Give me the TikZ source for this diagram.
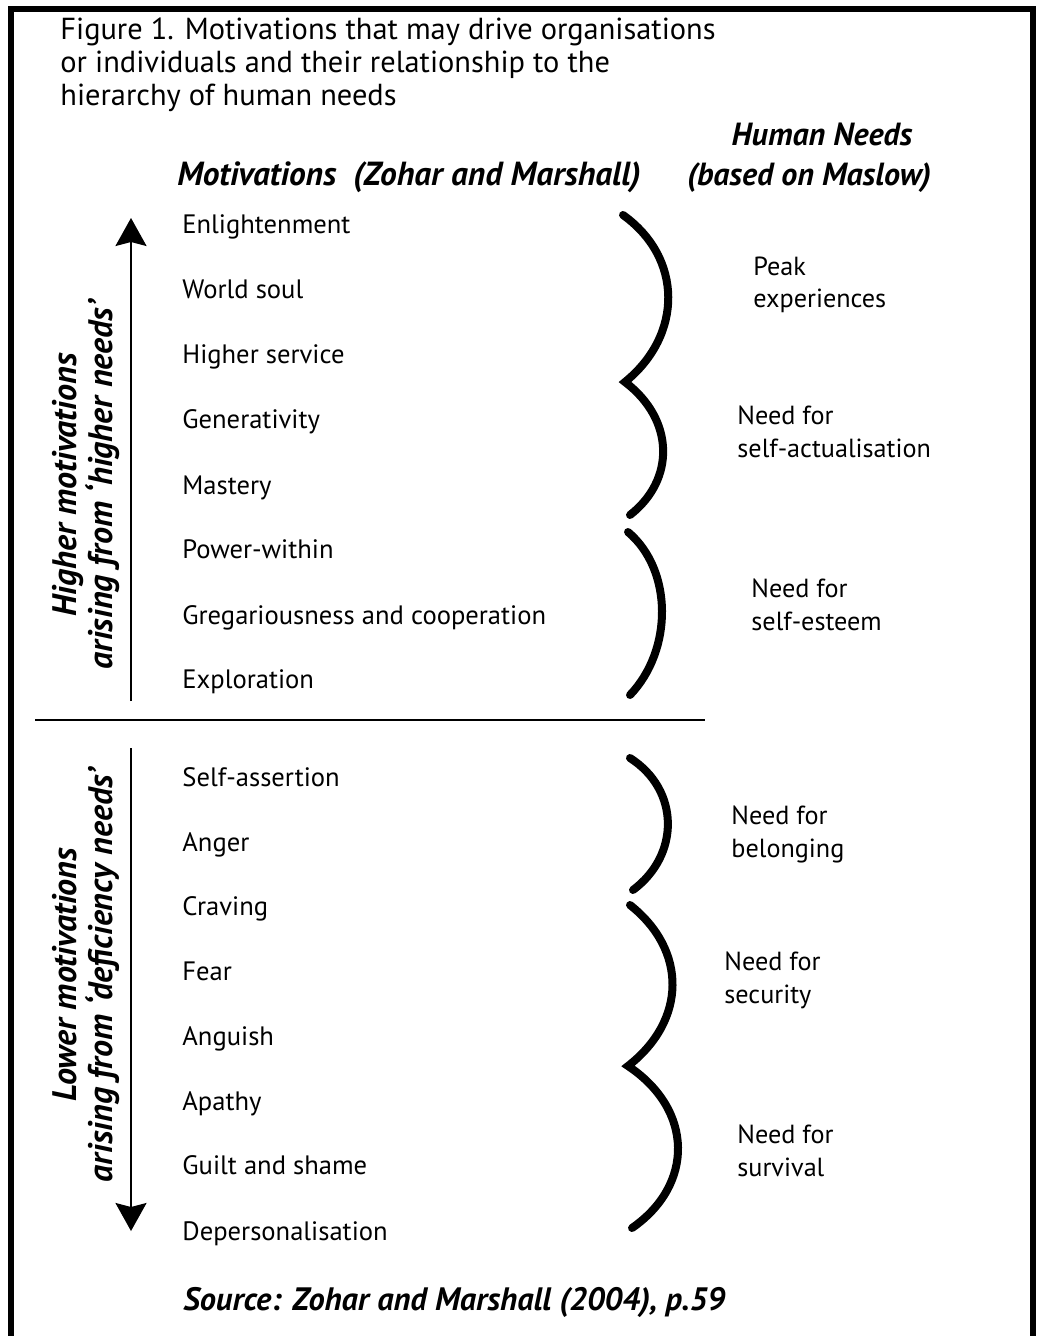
\documentclass[tikz,border=0pt]{standalone}
\usepackage{fontspec}
\setmainfont{PT Sans}
\usetikzlibrary{arrows.meta}
\tikzset{
  item/.style={anchor=base west, inner sep=0pt, font=\fontsize{13.3}{15}\selectfont},
  need/.style={anchor=base west, inner sep=0pt, align=left, font=\fontsize{13.1}{16.2}\selectfont},
  head/.style={anchor=base, inner sep=0pt, font=\fontsize{16}{18}\selectfont\bfseries\itshape},
  side/.style={inner sep=0pt, rotate=90, align=center, font=\fontsize{17}{17.8}\selectfont\bfseries\itshape},
  brace/.style={line width=4pt, line cap=round, line join=miter},
  vecarrow/.style={line width=1pt, -{Stealth[length=14pt, width=15.5pt, inset=2pt]}},
}
\begin{document}
\begin{tikzpicture}[x=0.5pt, y=-0.5pt]
\useasboundingbox (0,0) rectangle (1037,1336);
% frame
\draw[line width=2.6pt] (11,1336) -- (11,9) -- (1033,9) -- (1033,1336);
% title
\node[anchor=base west, inner sep=0pt, align=left, font=\fontsize{15.2}{16.5}\selectfont] (title) at (60,106)
  {Figure 1. Motivations that may drive organisations\\or individuals and their relationship to the\\hierarchy of human needs};
% headings
\node[head, font=\fontsize{16.7}{18}\selectfont\bfseries\itshape] (hmot) at (409,186) {Motivations\ \ (Zohar and Marshall)};
\node[head] (hneeds1) at (822,146) {Human Needs};
\node[head] (hneeds2) at (809,186) {(based on Maslow)};
% motivations
\node[item] (m1) at (182,234) {Enlightenment};
\node[item] (m2) at (182,299) {World soul};
\node[item] (m3) at (182,364) {Higher service};
\node[item] (m4) at (182,429) {Generativity};
\node[item] (m5) at (182,494) {Mastery};
\node[item] (m6) at (182,558) {Power-within};
\node[item] (m7) at (182,624) {Gregariousness and cooperation};
\node[item] (m8) at (182,688) {Exploration};
\node[item] (m9) at (182,786) {Self-assertion};
\node[item] (m10) at (182,851) {Anger};
\node[item] (m11) at (182,915) {Craving};
\node[item] (m12) at (182,980) {Fear};
\node[item] (m13) at (182,1045) {Anguish};
\node[item] (m14) at (182,1110) {Apathy};
\node[item] (m15) at (182,1174) {Guilt and shame};
\node[item] (m16) at (182,1240) {Depersonalisation};
% needs (anchored at the baseline of the last line)
\node[need] (n1) at (753,308) {Peak\\experiences};
\node[need] (n2) at (737,457) {Need for\\self-actualisation};
\node[need] (n3) at (751,630) {Need for\\self-esteem};
\node[need] (n4) at (731,857) {Need for\\belonging};
\node[need] (n5) at (724,1003) {Need for\\security};
\node[need] (n6) at (737,1176) {Need for\\survival};
% side labels
\node[side] (s1) at (86,485) {Higher motivations\\arising from ‘higher needs’};
\node[side] (s2) at (86,975) {Lower motivations\\arising from ‘deficiency needs’};
% arrows
\coordinate (upS) at (131,701);
\coordinate (upE) at (131,218);
\coordinate (dnS) at (131,748);
\coordinate (dnE) at (131,1231);
\draw[vecarrow] (upS) -- (upE);
\draw[vecarrow] (dnS) -- (dnE);
% divider
\coordinate (divL) at (35,720);
\coordinate (divR) at (705,720);
\draw[line width=1.2pt] (divL) -- (divR);
% braces
\draw[brace] (623,215) .. controls (683,258) and (683,335) .. (625,382)
                       .. controls (675,420) and (675,480) .. (630,515);
\draw[brace] (628,532) .. controls (673,570) and (673,650) .. (630,695);
\draw[brace] (630,758) .. controls (680,790) and (680,855) .. (633,890);
\draw[brace] (630,905) .. controls (687,950) and (687,1020) .. (628,1066)
                       .. controls (694,1110) and (694,1185) .. (632,1228);
% source
\node[anchor=base west, inner sep=0pt, font=\fontsize{16.2}{18}\selectfont\bfseries\itshape] (src) at (183,1310) {Source: Zohar and Marshall (2004), p.59};
\end{tikzpicture}
\end{document}
